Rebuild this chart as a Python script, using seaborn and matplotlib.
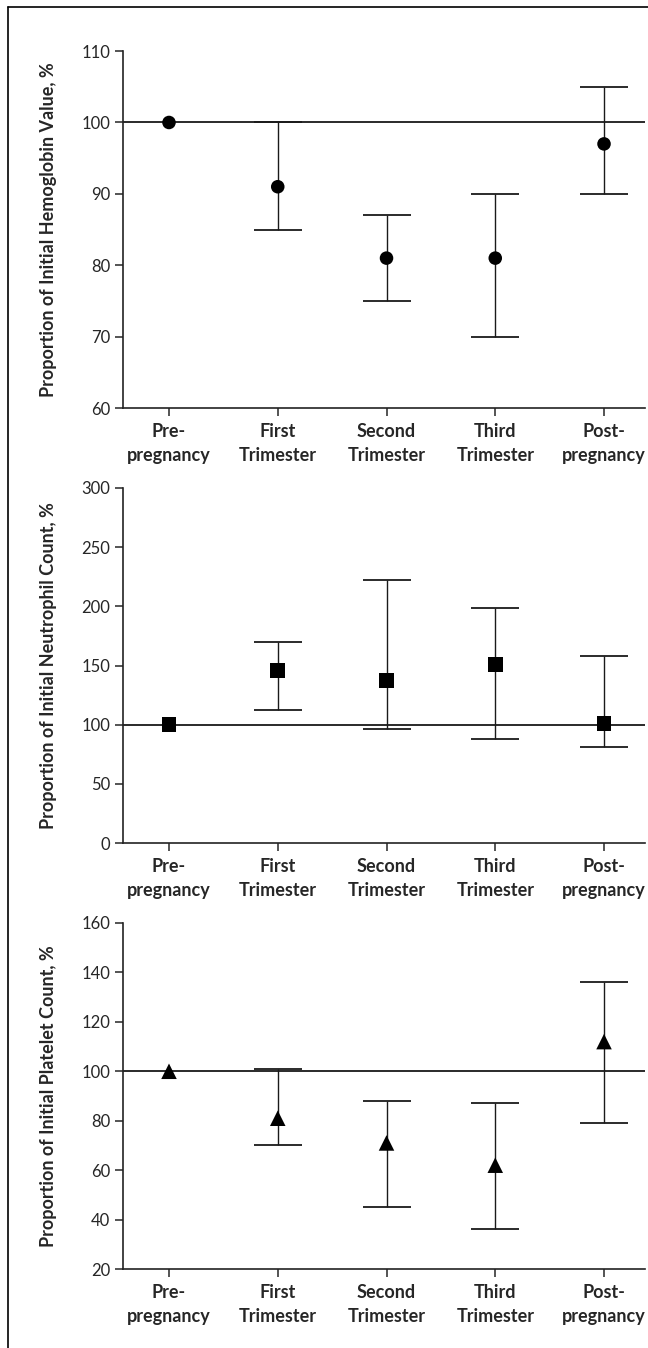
import numpy as np
import pandas as pd
import seaborn as sns
import matplotlib.pyplot as plt
from matplotlib.lines import Line2D

# data (percent of pre-pregnancy value)
stages = ["Pre-\npregnancy", "First\nTrimester", "Second\nTrimester", "Third\nTrimester", "Post-\npregnancy"]

hgb_mid = [100, 91, 81, 81, 97]
hgb_lo = [np.nan, 85, 75, 70, 90]
hgb_hi = [np.nan, 100, 87, 90, 105]

neut_mid = [100, 146, 137, 151, 101]
neut_lo = [np.nan, 112, 96, 88, 81]
neut_hi = [np.nan, 170, 222, 199, 158]

plt_mid = [100, 81, 71, 62, 112]
plt_lo = [np.nan, 70, 45, 36, 79]
plt_hi = [np.nan, 101, 88, 87, 136]

ylabels = ["Proportion of Initial Hemoglobin Value, %",
           "Proportion of Initial Neutrophil Count, %",
           "Proportion of Initial Platelet Count, %"]
yticks_list = [[60, 70, 80, 90, 100, 110],
               [0, 50, 100, 150, 200, 250, 300],
               [20, 40, 60, 80, 100, 120, 140, 160]]

sns.set_style("ticks")
plt.rcParams['font.family'] = ['Lato', 'DejaVu Sans']

fig = plt.figure(figsize=(6.48, 13.48), dpi=100)

panels = [
    (hgb_mid, hgb_lo, hgb_hi, "o", 95, [0.1898, 0.6973, 0.8056, 0.2648]),
    (neut_mid, neut_lo, neut_hi, "s", 115, [0.1898, 0.3746, 0.8056, 0.2634]),
    (plt_mid, plt_lo, plt_hi, "^", 125, [0.1898, 0.0586, 0.8056, 0.2567]),
]

for i, (mid, lo, hi, mk, size, rect) in enumerate(panels):
    ax = fig.add_axes(rect)
    df = pd.DataFrame({"stage": stages, "value": mid, "lo": lo, "hi": hi})
    xs = np.arange(len(stages))

    ax.axhline(100, color="#2a2a2a", lw=1.4, zorder=1)

    # error bars only where an interval exists
    m = df["lo"].notna().values
    ax.errorbar(xs[m], df["value"][m],
                yerr=[df["value"][m] - df["lo"][m], df["hi"][m] - df["value"][m]],
                fmt="none", ecolor="#1a1a1a", elinewidth=1.0, capsize=17, capthick=1.3, zorder=2)

    sns.scatterplot(data=df, x="stage", y="value", marker=mk, s=size,
                    color="black", edgecolor="none", ax=ax, zorder=3)

    yt = yticks_list[i]
    ax.set_ylim(yt[0], yt[-1])
    ax.set_yticks(yt)
    ax.set_xlim(-0.423, 4.377)
    ax.set_xticks(xs)
    ax.set_xticklabels(stages, fontweight="bold", fontsize=13, linespacing=1.45)
    ax.tick_params(axis="y", labelsize=12, length=6, width=1.1, direction="out", pad=3)
    ax.tick_params(axis="x", length=6, width=1.1, direction="out", pad=5)
    ax.set_xlabel("")
    ax.set_ylabel(ylabels[i], fontweight="bold", fontsize=13, labelpad=18)
    sns.despine(ax=ax)
    for sp in ("left", "bottom"):
        ax.spines[sp].set_linewidth(1.2)
        ax.spines[sp].set_color("#222222")

# partial frame around the figure: top and left edges
fig.add_artist(Line2D([8 / 648, 1.0], [1 - 7 / 1348, 1 - 7 / 1348], transform=fig.transFigure, color="black", lw=1.2))
fig.add_artist(Line2D([8 / 648, 8 / 648], [0.0, 1 - 7 / 1348], transform=fig.transFigure, color="black", lw=1.2))

fig.savefig("out.png", dpi=100)
